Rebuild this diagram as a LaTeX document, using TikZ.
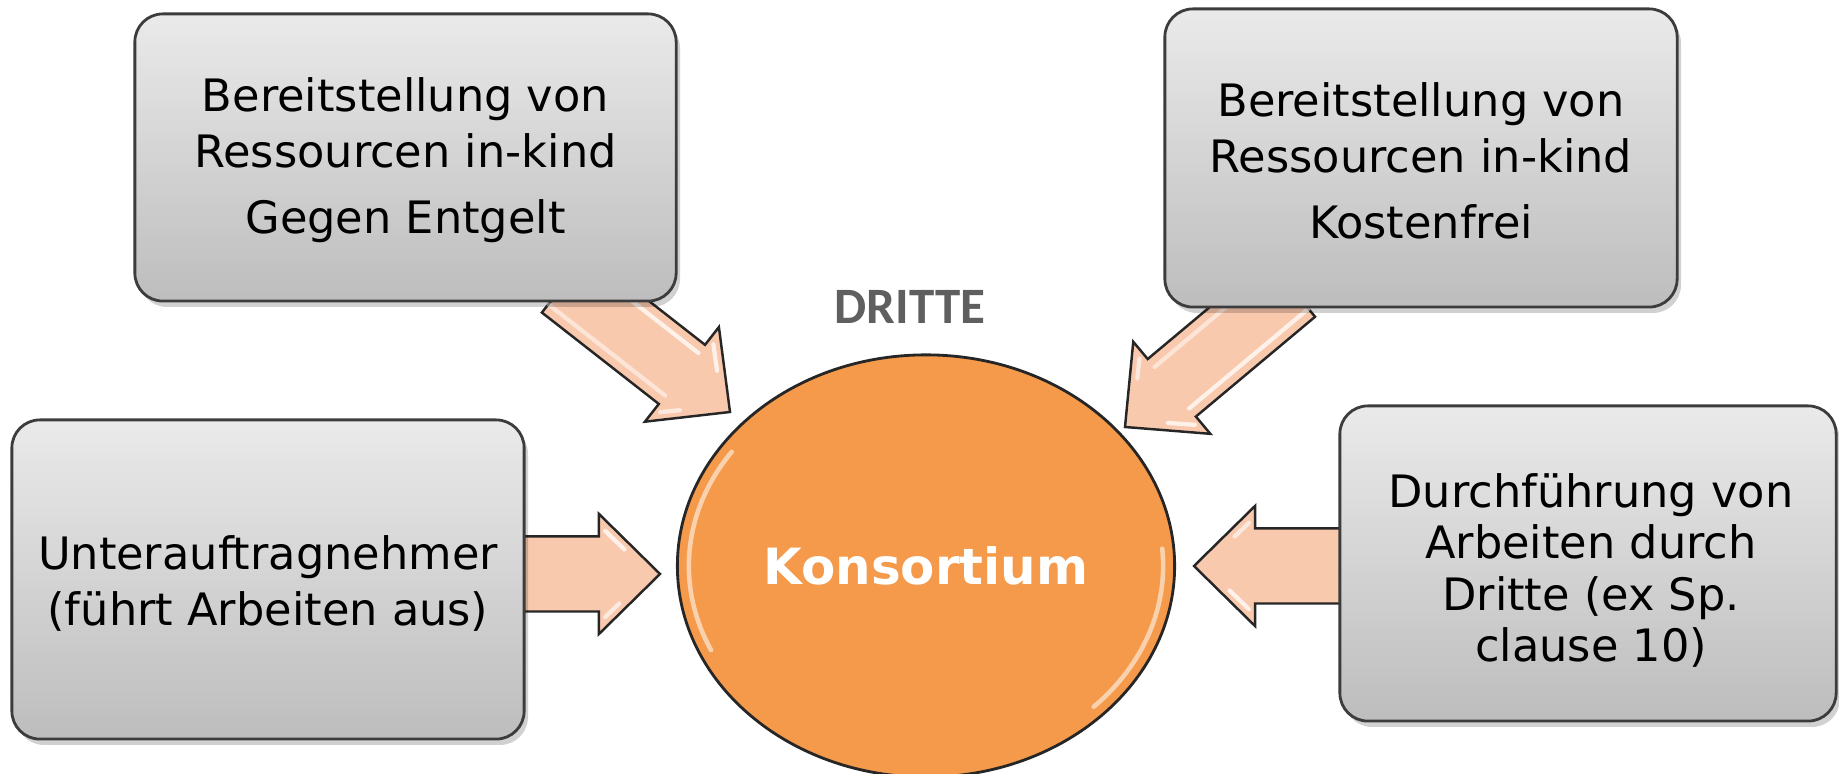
\documentclass[tikz,border=0pt]{standalone}
\usepackage{fontspec}
\setmainfont{DejaVu Sans}
\newfontfamily\carlito{Carlito}
\usetikzlibrary{calc,shapes.geometric}
\definecolor{boxtop}{HTML}{EAEAEA}
\definecolor{boxbot}{HTML}{BDBDBD}
\definecolor{boxline}{HTML}{3C3C3C}
\definecolor{arrfill}{HTML}{F9C9AE}
\definecolor{circfill}{HTML}{F5994A}
\definecolor{drittegrey}{HTML}{5F5F5F}
\tikzset{
  greybox/.style={rounded corners=0.28cm, draw=boxline, line width=0.8pt,
    top color=boxtop, bottom color=boxbot, inner sep=0pt},
  boxtext/.style={align=center, inner sep=0pt, font=\fontsize{12.7}{15.9}\selectfont},
  boxshadow/.style={rounded corners=0.28cm, fill=black, opacity=0.18},
  blockarrow/.style={draw=black!85, line width=0.7pt, fill=arrfill, line join=miter},
  gloss/.style={draw=white, opacity=0.75, line width=1.2pt, line cap=round},
}
% block arrow from tail #1 to tip #2
\newcommand\blockarr[2]{%
  \coordinate (bb) at ($(#2)!0.61cm!(#1)$);
  \draw[blockarrow] ($(#1)!0.375cm!90:(#2)$) -- ($(bb)!0.375cm!-90:(#1)$)
    -- ($(bb)!0.6cm!-90:(#1)$) -- (#2) -- ($(bb)!0.6cm!90:(#1)$)
    -- ($(bb)!0.375cm!90:(#1)$) -- ($(#1)!0.375cm!-90:(#2)$) -- cycle;
  \coordinate (hi) at ($(#2)!0.1cm!(#1)$);
  \coordinate (fa) at ($(bb)!0.49cm!-90:(#1)$);
  \coordinate (fb) at ($(bb)!0.49cm!90:(#1)$);
  \draw[gloss] ($(fa)!0.12!(hi)$) -- ($(fa)!0.5!(hi)$);
  \draw[gloss, opacity=0.6] ($(fb)!0.12!(hi)$) -- ($(fb)!0.4!(hi)$);
}
% shaft gloss streaks
\newcommand\shaftgloss[2]{%
  \coordinate (bb) at ($(#2)!0.61cm!(#1)$);
  \draw[gloss] ($(#1)!0.27cm!90:(#2)$) -- ($(bb)!0.27cm!-90:(#1)$);
  \draw[gloss, opacity=0.5] ($(#1)!0.27cm!-90:(#2)$) -- ($(bb)!0.27cm!90:(#1)$);
}
\begin{document}
\begin{tikzpicture}[x=0.01cm, y=-0.01cm]
\useasboundingbox (0,0) rectangle (1839,774);

% arrow end points
\coordinate (t1) at (565,283);  \coordinate (h1) at (730,412);
\coordinate (t2) at (1291,288); \coordinate (h2) at (1125,427);
\coordinate (t3) at (500,574);  \coordinate (h3) at (660,574);
\coordinate (t4) at (1365,566); \coordinate (h4) at (1194,566);

\blockarr{t1}{h1}
\shaftgloss{t1}{h1}
\blockarr{t2}{h2}
\shaftgloss{t2}{h2}
\blockarr{t3}{h3}
\blockarr{t4}{h4}

% shadows
\fill[boxshadow] (139,20) rectangle (680,307);
\fill[boxshadow] (1169,15) rectangle (1681,313);
\fill[boxshadow] (16,426) rectangle (528,745);
\fill[boxshadow] (1344,412) rectangle (1840,727);

% boxes
\node[greybox, minimum width=5.41cm, minimum height=2.87cm] (tl) at (405.5,157.5) {};
\node[greybox, minimum width=5.12cm, minimum height=2.98cm] (tr) at (1421,158) {};
\node[greybox, minimum width=5.12cm, minimum height=3.19cm] (lb) at (268,579.5) {};
\node[greybox, minimum width=4.96cm, minimum height=3.15cm] (rb) at (1588,563.5) {};

\node[boxtext] (tltext) at ($(tl.center)+(0,3)$)
  {Bereitstellung von\\Ressourcen in-kind\\[3pt]Gegen Entgelt};
\node[boxtext] (trtext) at ($(tr.center)+(0,3)$)
  {Bereitstellung von\\Ressourcen in-kind\\[3pt]Kostenfrei};
\node[boxtext] (lbtext) at ($(lb.center)+(0,4)$)
  {Unterauftragnehmer\\(führt Arbeiten aus)};
\node[boxtext, font=\fontsize{12.7}{14.65}\selectfont] (rbtext) at ($(rb.center)+(3,7)$)
  {Durchführung von\\Arbeiten durch\\Dritte (ex Sp.\\clause 10)};

% centre
\node[ellipse, draw=black!85, line width=0.8pt, fill=circfill, minimum width=4.97cm,
  minimum height=4.22cm, inner sep=0pt, text=white,
  font=\bfseries\fontsize{14.2}{17}\selectfont] (k) at (926,566) {Konsortium};
\draw[white, opacity=0.55, line width=1.3pt, line cap=round]
  ($(k.center)+(145:2.37cm and 1.99cm)$) arc[start angle=145, end angle=205, x radius=2.37cm, y radius=1.99cm];
\draw[white, opacity=0.55, line width=1.3pt, line cap=round]
  ($(k.center)+(-45:2.37cm and 1.99cm)$) arc[start angle=-45, end angle=5, x radius=2.37cm, y radius=1.99cm];

\node[font=\carlito\bfseries\fontsize{14.5}{17}\selectfont, text=drittegrey, anchor=base]
  (dr) at (910,324) {DRITTE};
\end{tikzpicture}
\end{document}
